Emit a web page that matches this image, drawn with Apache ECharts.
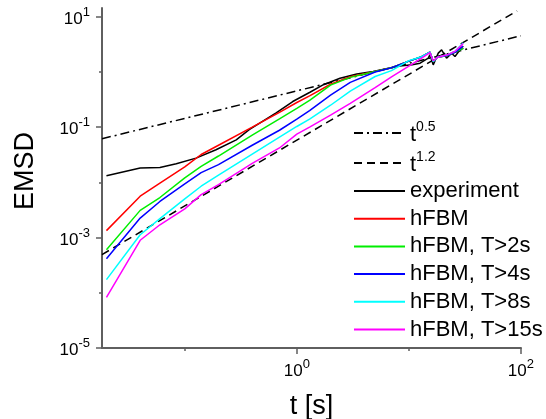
<!DOCTYPE html>
<html><head><meta charset="utf-8">
<script src="https://cdn.jsdelivr.net/npm/echarts@6/dist/echarts.min.js"></script>
<style>html,body{margin:0;padding:0;background:#fff}#c{width:546px;height:419px}</style>
</head><body><div id="c"></div>
<script>
// time grid (s) for simulated curves
const tSim = [0.02, 0.04, 0.06, 0.1, 0.14, 0.2, 0.4, 0.7, 1, 1.3, 2, 3, 5, 7, 10, 13, 15.4, 16.5, 18, 22, 26, 30.6];
const hFBM      = [1.33e-3, 5.6e-3, 9.7e-3, 0.019, 0.032, 0.047, 0.10, 0.186, 0.28, 0.37, 0.60, 0.82, 1.02, 1.2, 1.58, 1.9, 2.3, 1.55, 1.85, 2.0, 2.3, 2.95];
const hFBM_T2   = [6.0e-4, 3.1e-3, 5.3e-3, 0.012, 0.0195, 0.030, 0.072, 0.142, 0.22, 0.305, 0.58, 0.80, 1.02, 1.2, 1.58, 1.9, 2.3, 1.55, 1.85, 2.0, 2.3, 2.7];
const hFBM_T4   = [4.1e-4, 2.25e-3, 4.5e-3, 9.4e-3, 0.015, 0.021, 0.047, 0.088, 0.14, 0.20, 0.38, 0.65, 1.0, 1.2, 1.58, 1.9, 2.3, 1.55, 1.85, 2.0, 2.3, 2.95];
const hFBM_T8   = [1.72e-4, 1.12e-3, 2.2e-3, 5.0e-3, 8.5e-3, 0.0135, 0.0326, 0.066, 0.103, 0.14, 0.25, 0.45, 0.83, 1.06, 1.61, 1.9, 2.3, 1.55, 1.85, 2.05, 2.4, 3.4];
const hFBM_T15  = [8.2e-5, 8.9e-4, 1.7e-3, 3.3e-3, 6.0e-3, 9.1e-3, 0.022, 0.042, 0.075, 0.10, 0.165, 0.27, 0.52, 0.82, 1.28, 1.79, 2.25, 1.6, 1.85, 2.05, 2.4, 3.3];
// experiment
const tExp = [0.02,0.04,0.06,0.084,0.126,0.19,0.288,0.376,0.654,0.92,1.31,1.73,2.43,3.43,4.79,6.79,8.3,10.7,12.6,14.9,15.4,16.5,18.3,19.6,21.7,24.1,25.8,28.6,30.6];
const vExp = [0.0132,0.0182,0.0186,0.0217,0.0275,0.039,0.059,0.090,0.182,0.292,0.43,0.59,0.77,0.92,1.02,1.18,1.29,1.35,1.45,1.79,2.05,1.35,2.20,2.52,1.79,2.20,1.91,2.52,2.71];
// guide power laws (endpoints)
const tGuide05 = [0.01825, 100];
const vGuide05 = [0.0617, 4.54];
const tGuide12 = [0.01825, 92.5];
const vGuide12 = [4.9e-4, 12.9];
// ticks
const xMajor = [1, 100];
const xMinor = [0.1, 10];
const yMajor = [10, 0.1, 1e-3, 1e-5];
const yMinor = [1, 0.01, 1e-4];

const FONT = "'Liberation Sans', Arial, sans-serif";
const zip = (a, b) => a.map((v, i) => [v, b[i]]);
const AX = '#5f5f5f';
const fmt = v => '{b|10}{s|' + Math.round(Math.log10(v)) + '}';
const tickRich = {
  b: {fontSize: 17, fontFamily: FONT, color: '#000', lineHeight: 22, verticalAlign: 'bottom'},
  s: {fontSize: 13, fontFamily: FONT, color: '#000', lineHeight: 13, verticalAlign: 'top'}
};
const xmin = 0.01825, xmax = 100.2, ymin = 0.99e-5, ymax = 14.5;

const chart = echarts.init(document.getElementById('c'), null, {renderer: 'canvas'});
const lineSeries = (name, t, v, color, type) => ({
  name, type: 'line', xAxisIndex: 0, yAxisIndex: 0, data: zip(t, v), symbol: 'none', showSymbol: false,
  lineStyle: {color, width: 1.5, type: type || 'solid'}, itemStyle: {color}, animation: false, z: 3
});
const legendItemStyle = {color: 'rgba(0,0,0,0)', borderWidth: 0, opacity: 0};
chart.setOption({
  animation: false,
  backgroundColor: '#fff',
  grid: {left: 102, right: 25, top: 8, bottom: 71, containLabel: false, outerBoundsMode: 'none'},
  xAxis: [
    {type: 'log', logBase: 10, min: xmin, max: xmax, position: 'bottom',
     name: 't [s]', nameLocation: 'middle', nameGap: 45,
     nameTextStyle: {fontSize: 27, fontFamily: FONT, color: '#000'},
     axisLine: {show: true, lineStyle: {color: AX, width: 2}},
     axisTick: {show: true, length: 6, lineStyle: {color: AX, width: 1.5}, customValues: xMajor},
     axisLabel: {show: true, margin: 10, formatter: fmt, rich: tickRich, customValues: xMajor},
     splitLine: {show: false}, minorTick: {show: false}},
    {type: 'log', logBase: 10, min: xmin, max: xmax, position: 'bottom',
     axisLine: {show: false},
     axisTick: {show: true, length: 3, lineStyle: {color: AX, width: 1.5}, customValues: xMinor},
     axisLabel: {show: false}, splitLine: {show: false}}
  ],
  yAxis: [
    {type: 'log', logBase: 10, min: ymin, max: ymax, position: 'left',
     name: 'EMSD', nameLocation: 'middle', nameGap: 63, nameRotate: 90,
     nameTextStyle: {fontSize: 27, fontFamily: FONT, color: '#000', padding: [0, 0, 0, 14]},
     axisLine: {show: true, lineStyle: {color: AX, width: 2}},
     axisTick: {show: true, length: 6, lineStyle: {color: AX, width: 1.5}, customValues: yMajor},
     axisLabel: {show: true, margin: 12, formatter: fmt, rich: tickRich, customValues: yMajor},
     splitLine: {show: false}, minorTick: {show: false}},
    {type: 'log', logBase: 10, min: ymin, max: ymax, position: 'left',
     axisLine: {show: false},
     axisTick: {show: true, length: 3, lineStyle: {color: AX, width: 1.5}, customValues: yMinor},
     axisLabel: {show: false}, splitLine: {show: false}}
  ],
  legend: [
    {orient: 'vertical', left: 353, top: 120, padding: 0, itemGap: 4, itemWidth: 51, itemHeight: 12,
     itemStyle: legendItemStyle,
     data: ['t05', 't12'],
     formatter: n => n === 't05' ? '{t|t}{s|0.5}' : '{t|t}{s|1.2}',
     textStyle: {rich: {
       t: {fontSize: 22, fontFamily: FONT, color: '#000', lineHeight: 26, verticalAlign: 'bottom'},
       s: {fontSize: 14, fontFamily: FONT, color: '#000', lineHeight: 14, verticalAlign: 'top'}}}},
    {orient: 'vertical', left: 353, top: 180, padding: 0, itemGap: 5.7, itemWidth: 51, itemHeight: 12,
     itemStyle: legendItemStyle,
     data: ['experiment', 'hFBM', 'hFBM, T>2s', 'hFBM, T>4s', 'hFBM, T>8s', 'hFBM, T>15s'],
     textStyle: {fontSize: 22, fontFamily: FONT, color: '#000', lineHeight: 22}}
  ],
  series: [
    lineSeries('t05', tGuide05, vGuide05, '#000', [9, 4, 2, 4]),
    lineSeries('t12', tGuide12, vGuide12, '#000', [8, 5]),
    lineSeries('experiment', tExp, vExp, '#000'),
    lineSeries('hFBM', tSim, hFBM, '#ff0000'),
    lineSeries('hFBM, T>2s', tSim, hFBM_T2, '#00ee00'),
    lineSeries('hFBM, T>4s', tSim, hFBM_T4, '#0000ff'),
    lineSeries('hFBM, T>8s', tSim, hFBM_T8, '#00ffff'),
    lineSeries('hFBM, T>15s', tSim, hFBM_T15, '#ff00ff')
  ]
});
</script></body></html>
